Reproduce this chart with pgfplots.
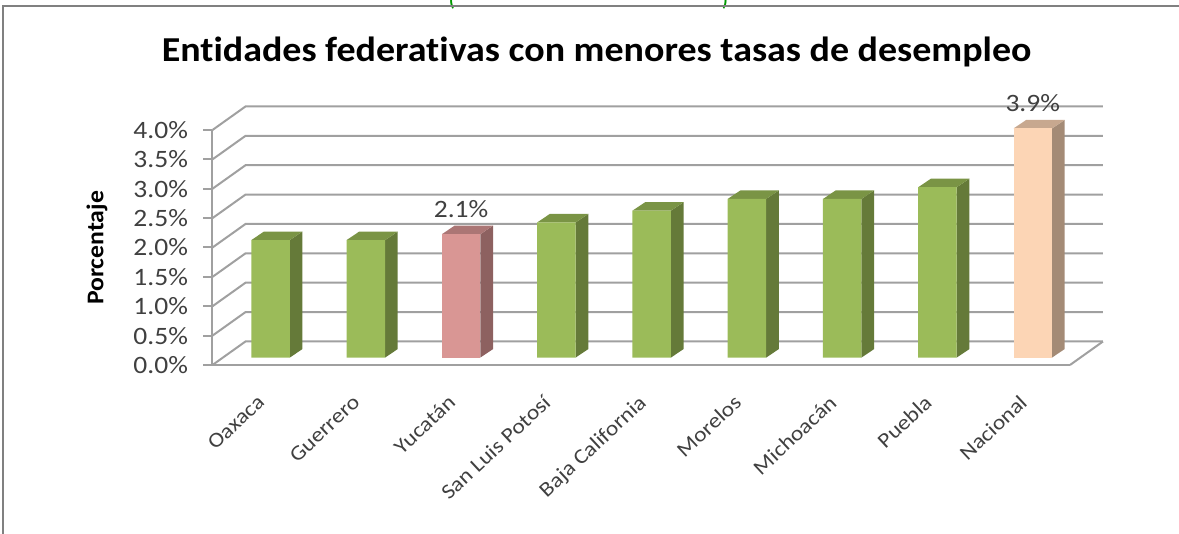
\documentclass[border=0pt]{standalone}
\usepackage{pgfplots}
\pgfplotsset{compat=1.18}
\usepackage{fontspec}
\setmainfont[Ligatures=NoCommon]{Carlito}
\newfontfamily\titlef[Ligatures=NoCommon,FakeStretch=1.085]{Carlito}
\newfontfamily\ylabf[Ligatures=NoCommon,FakeStretch=1.07]{Carlito}
\newfontfamily\tickf[Ligatures=NoCommon,FakeStretch=1.1]{Carlito}
\newfontfamily\catf[Ligatures=NoCommon,FakeStretch=1.12]{Carlito}
\definecolor{gridg}{HTML}{A0A0A0}
\definecolor{txt}{HTML}{404040}
\definecolor{gf}{HTML}{9BBB59}
\definecolor{gs}{HTML}{657A39}
\definecolor{gt}{HTML}{7A9445}
\definecolor{rf}{HTML}{D99694}
\definecolor{rs}{HTML}{8D6160}
\definecolor{rt}{HTML}{AB7675}
\definecolor{pf}{HTML}{FCD5B5}
\definecolor{ps}{HTML}{A48B76}
\definecolor{pt}{HTML}{C7A88F}
% side and top faces of one bar: #1 category, #2 value, #3 side colour, #4 top colour
\newcommand\BarFaces[4]{%
  \pgfmathsetmacro\xa{#1+0.202}%
  \pgfmathsetmacro\xb{#1+0.202+0.133}%
  \pgfmathsetmacro\xc{#1-0.202}%
  \pgfmathsetmacro\xd{#1-0.202+0.133}%
  \pgfmathsetmacro\yb{#2+0.145}%
  \addplot[fill=#3,draw=none,forget plot] coordinates {(\xa,0) (\xb,0.145) (\xb,\yb) (\xa,#2)} -- cycle;
  \addplot[fill=#4,draw=none,forget plot] coordinates {(\xc,#2) (\xd,\yb) (\xb,\yb) (\xa,#2)} -- cycle;
}
\begin{document}
\begin{tikzpicture}[x=1pt,y=1pt]
\clip (-212.5,-169) rectangle (966.5,365);
\node[text=green!60!black,font=\fontsize{18}{18}\selectfont\bfseries] at (239.5,364) {(};
\node[text=green!60!black,font=\fontsize{18}{18}\selectfont\bfseries] at (512.5,364) {)};
\draw[black!50,line width=2.4pt] (-209.5,-200) -- (-209.5,359) -- (1000,359);
\begin{axis}[
  at={(0pt,0pt)},anchor=south west,
  scale only axis,width=857.5pt,height=235pt,
  xmin=-0.5,xmax=8.5,ymin=0,ymax=4,
  clip=false,
  axis y line*=left,axis x line*=bottom,
  axis line style={gridg,line width=2pt,-},
  ytick={0,0.5,...,4},
  xtick={0,...,8},
  xticklabels={Oaxaca,Guerrero,Yucatán,San Luis Potosí,Baja California,Morelos,Michoacán,Puebla,Nacional},
  x tick label style={rotate=43,anchor=north east,font=\catf\fontsize{21}{21}\selectfont,text=txt,xshift=-12.9pt,yshift=-8.4pt},
  major x tick style={draw=none},
  extra x ticks={-0.5,0.5,...,8.5},
  extra x tick labels={},
  extra x tick style={tick style={gridg,line width=2pt},major tick length=7pt,xtick pos=bottom},
  ytick style={gridg,line width=2pt},
  major tick length=9pt,
  tick align=outside,
  yticklabel={\pgfmathprintnumber[fixed,fixed zerofill,precision=1,assume math mode=true]{\tick}\%},
  y tick label style={font=\tickf\fontsize{25}{25}\selectfont,text=txt,xshift=-12pt},
  ylabel={Porcentaje},
  every axis y label/.style={at={(axis description cs:-0.1347,0.498)},rotate=90,anchor=center,font=\ylabf\fontsize{24}{24}\selectfont\bfseries},
  title={Entidades federativas con menores tasas de desempleo},
  every axis title/.style={at={(axis description cs:0.448,1.332)},anchor=center,font=\titlef\fontsize{35}{35}\selectfont\bfseries},
]
\pgfplotsinvokeforeach{0,0.5,1,1.5,2,2.5,3,3.5,4}{
  \addplot[gridg,line width=2pt,forget plot] coordinates {(-0.5,#1) (-0.154,#1+0.4) (8.846,#1+0.4)};
}
\addplot[gridg,line width=2pt,forget plot] coordinates {(8.5,0) (8.846,0.4)};
\end{axis}
\begin{axis}[
  at={(10.4pt,7.4pt)},anchor=south west,
  scale only axis,width=857.5pt,height=235pt,
  xmin=-0.5,xmax=8.5,ymin=0,ymax=4,
  clip=false,hide axis,
  every node near coord/.append style={anchor=center,yshift=25pt,font=\tickf\fontsize{25}{25}\selectfont,text=txt},
]
\BarFaces{0}{2.0}{gs}{gt}
\BarFaces{1}{2.0}{gs}{gt}
\BarFaces{2}{2.1}{rs}{rt}
\BarFaces{3}{2.3}{gs}{gt}
\BarFaces{4}{2.5}{gs}{gt}
\BarFaces{5}{2.7}{gs}{gt}
\BarFaces{6}{2.7}{gs}{gt}
\BarFaces{7}{2.9}{gs}{gt}
\BarFaces{8}{3.9}{ps}{pt}
\addplot[ybar,bar width=38.5pt,bar shift=0pt,fill=gf,draw=none] coordinates {(0,2.0) (1,2.0) (3,2.3) (4,2.5) (5,2.7) (6,2.7) (7,2.9)};
\addplot[ybar,bar width=38.5pt,bar shift=0pt,fill=rf,draw=none,
  nodes near coords={\pgfmathprintnumber[fixed,fixed zerofill,precision=1,assume math mode=true]{\pgfplotspointmeta}\%}] coordinates {(2,2.1)};
\addplot[ybar,bar width=38.5pt,bar shift=0pt,fill=pf,draw=none,
  nodes near coords={\pgfmathprintnumber[fixed,fixed zerofill,precision=1,assume math mode=true]{\pgfplotspointmeta}\%}] coordinates {(8,3.9)};
\end{axis}
\end{tikzpicture}
\end{document}
